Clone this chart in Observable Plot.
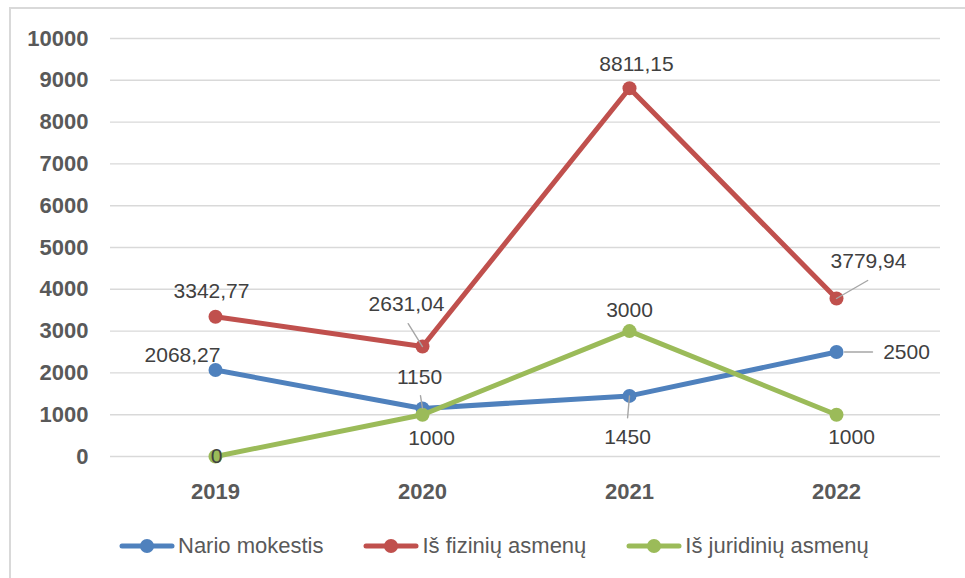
<!DOCTYPE html>
<html>
<head>
<meta charset="utf-8">
<script src="https://cdn.jsdelivr.net/npm/d3@7"></script>
<script src="https://cdn.jsdelivr.net/npm/@observablehq/plot@0.6"></script>
<style>
  html, body { margin: 0; padding: 0; background: #ffffff; }
  #wrap { position: relative; width: 965px; height: 578px; overflow: hidden; background: #fff; }
  #frame { position: absolute; left: 9px; top: 7px; width: 980px; height: 600px; border-left: 2px solid #d9d9d9; border-top: 2px solid #d9d9d9; box-sizing: border-box; }
  #chart { position: absolute; left: 0; top: 0; }
  #legend { position: absolute; left: 119px; top: 533px; display: flex; align-items: center; font-family: "Liberation Sans", Arial, sans-serif; font-size: 22px; color: #595959; }
  .item { display: flex; align-items: center; margin-right: 40px; }
  .item svg { margin-right: 3px; }
</style>
</head>
<body>
<div id="wrap">
  <div id="frame"></div>
  <div id="chart"></div>
  <div id="legend"></div>
</div>
<script>
// ---- data ----
const years = ["2019", "2020", "2021", "2022"];
const seriesNames = ["Nario mokestis", "Iš fizinių asmenų", "Iš juridinių asmenų"];
const narioMokestis = [2068.27, 1150, 1450, 2500];
const fiziniuAsmenu = [3342.77, 2631.04, 8811.15, 3779.94];
const juridiniuAsmenu = [0, 1000, 3000, 1000];
const yTicks = [0, 1000, 2000, 3000, 4000, 5000, 6000, 7000, 8000, 9000, 10000];

// ---- styling / layout (not data) ----
const colors = ["#4f81bd", "#c0504d", "#9bbb59"];
// label offsets in pixels, per series, per year
const labelOffsets = [
  [[-33, -15], [-3, -31], [-2, 41], [70, 0]],
  [[-4, -26], [-16, -42], [7, -24], [32, -37]],
  [[1, 0], [9, 24], [0, -21], [15, 23]]
];
// leader lines: [seriesIndex, yearIndex, length px, rotate deg, dx, dy]
const leaders = [
  [1, 1, 27, -32, 0, 0],
  [0, 1, 13, -9, 0, 0],
  [0, 2, 22, 185, 0, 0],
  [0, 3, 28, 90, 8, 0],
  [1, 3, 36, 60, 0, 0]
];

const seriesValues = [narioMokestis, fiziniuAsmenu, juridiniuAsmenu];
const rows = seriesValues.map((vals, s) =>
  vals.map((v, i) => ({series: seriesNames[s], year: years[i], value: v, s, i}))
);
const fmt = v => Number.isInteger(v) ? String(v) : v.toFixed(2).replace(".", ",");
const leaderShape = {draw(context, l) { context.moveTo(0, 0); context.lineTo(0, -l); }};

const marks = [
  Plot.ruleY(yTicks, {stroke: "#d9d9d9", strokeWidth: 1.4})
];
rows.forEach((data, s) => {
  marks.push(Plot.line(data, {x: "year", y: "value", stroke: colors[s], strokeWidth: 5, strokeLinecap: "round", strokeLinejoin: "round"}));
  marks.push(Plot.dot(data, {x: "year", y: "value", r: 7, fill: colors[s], stroke: "none"}));
});
leaders.forEach(([s, i, len, rot, dx, dy]) => {
  marks.push(Plot.vector([rows[s][i]], {x: "year", y: "value", length: len, rotate: rot, anchor: "start", shape: leaderShape, stroke: "#a6a6a6", strokeWidth: 1.4, dx, dy}));
});
rows.forEach((data, s) => {
  data.forEach((d, i) => {
    const [dx, dy] = labelOffsets[s][i];
    marks.push(Plot.text([d], {x: "year", y: "value", text: r => fmt(r.value), dx, dy, fill: "#404040", fontSize: 21, fontWeight: "normal", textAnchor: "middle"}));
  });
});

const chart = Plot.plot({
  width: 965,
  height: 500,
  marginLeft: 110,
  marginRight: 25,
  marginTop: 38,
  marginBottom: 44,
  style: {fontFamily: "'Liberation Sans', Arial, sans-serif", fontSize: "22px", fontWeight: "bold", color: "#595959", background: "transparent", overflow: "visible"},
  x: {type: "point", domain: years, padding: 0.5, tickSize: 0, tickPadding: 27, label: null},
  y: {domain: [0, 10000], ticks: yTicks, tickFormat: d => String(d), tickSize: 0, tickPadding: 22, label: null},
  marks
});
document.getElementById("chart").appendChild(chart);

// ---- legend ----
const legend = document.getElementById("legend");
seriesNames.forEach((name, s) => {
  const item = document.createElement("div");
  item.className = "item";
  item.innerHTML = `<svg width="56" height="16"><line x1="3" y1="8" x2="53" y2="8" stroke="${colors[s]}" stroke-width="5" stroke-linecap="round"/><circle cx="28" cy="8" r="7" fill="${colors[s]}"/></svg><span>${name}</span>`;
  legend.appendChild(item);
});
</script>
</body>
</html>
